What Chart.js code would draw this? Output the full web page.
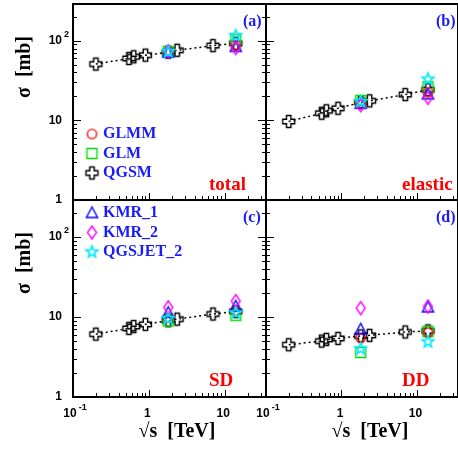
<!DOCTYPE html>
<html>
<head>
<meta charset="utf-8">
<script src="https://cdn.jsdelivr.net/npm/chart.js@4/dist/chart.umd.min.js"></script>
<style>
  html, body { margin: 0; padding: 0; background: #fff; overflow: hidden; }
  #wrap { position: relative; width: 458px; height: 449px; }
  #wrap canvas { position: absolute; left: 0; top: 0; }
</style>
</head>
<body>
<div id="wrap">
  <canvas id="panelA" width="458" height="449"></canvas>
  <canvas id="panelB" width="458" height="449"></canvas>
  <canvas id="panelC" width="458" height="449"></canvas>
  <canvas id="panelD" width="458" height="449"></canvas>
</div>
<script>
// sqrt(s) in TeV
const qgsmEnergies = [0.2, 0.546, 0.63, 0.9, 1.8, 2.36, 7, 14];
const modelEnergies = [1.8, 14];

// QGSM (dotted curve), sigma in mb
const qgsmTotal   = [51, 60, 63, 66, 72, 76, 87, 93];
const qgsmElastic = [9.7, 12.3, 13.2, 14.2, 16.8, 17.6, 21.1, 24.3];
const qgsmSD      = [6.1, 7.2, 7.6, 8.1, 9.0, 9.4, 10.9, 11.7];
const qgsmDD      = [4.5, 5.0, 5.25, 5.4, 5.8, 5.9, 6.5, 6.7];

// models at 1.8 and 14 TeV
const glmmTotal = [73, 88],    glmmElastic = [16.6, 22.5], glmmSD = [9.8, 11.9], glmmDD = [5.5, 6.4];
const glmTotal  = [73.5, 103], glmElastic  = [17.8, 26.5], glmSD  = [8.9, 10.5], glmDD  = [3.6, 6.6];
const kmr1Total = [71, 84],    kmr1Elastic = [16.2, 21.3], kmr1SD = [11.3, 13.6], kmr1DD = [7.0, 13.2];
const kmr2Total = [74, 81],    kmr2Elastic = [15.5, 19.2], kmr2SD = [13.2, 15.8], kmr2DD = [12.9, 13.5];
const qgsjTotal = [73, 116],   qgsjElastic = [17.3, 33],   qgsjSD = [9.6, 11.3],  qgsjDD = [4.0, 4.9];

// axis tick labels: [base, exponent]
const xTickValues = [0.1, 1, 10];
const xTickLabels = [["10", "-1"], ["1", ""], ["10", ""]];
const yTickValues = [1, 10, 100];
const yTickLabels = [["1", ""], ["10", ""], ["10", "2"]];

const W = 458, H = 449;
const X_MIN = 0.1, X_MAX = 35, Y_MIN = 1, Y_MAX = 290;
const SERIF = "'Liberation Serif', 'Times New Roman', serif";
const SANS = "'Liberation Sans', Arial, sans-serif";
const BLUE = "#1a1aff", RED = "#ff0000";

function makeMarker(shape, color) {
    const c = document.createElement("canvas");
    c.width = 17; c.height = 17;
    const g = c.getContext("2d");
    g.translate(8.5, 8.5);
    g.strokeStyle = color;
    g.lineWidth = shape === "star" ? 1.7 : 1.4;
    g.beginPath();
    if (shape === "circle") {
        g.arc(0, 0, 4.6, 0, Math.PI * 2);
    } else if (shape === "square") {
        g.rect(-5, -5, 10, 10);
    } else if (shape === "triangle") {
        g.moveTo(0, -6); g.lineTo(5.6, 4.5); g.lineTo(-5.6, 4.5); g.closePath();
    } else if (shape === "diamond") {
        g.moveTo(0, -6.5); g.lineTo(4.5, 0); g.lineTo(0, 6.5); g.lineTo(-4.5, 0); g.closePath();
    } else if (shape === "star") {
        for (let i = 0; i < 10; i++) {
            const r = i % 2 ? 2.6 : 6;
            const a = -Math.PI / 2 + i * Math.PI / 5;
            g.lineTo(r * Math.cos(a), r * Math.sin(a));
        }
        g.closePath();
    } else if (shape === "cross") {
        const a = 2.2, e = 6;
        const p = [[-a,-e],[a,-e],[a,-a],[e,-a],[e,a],[a,a],[a,e],[-a,e],[-a,a],[-e,a],[-e,-a],[-a,-a]];
        p.forEach(([x, y], i) => i ? g.lineTo(x, y) : g.moveTo(x, y));
        g.closePath();
    }
    g.stroke();
    return c;
}

const markers = {
    GLMM: makeMarker("circle", "#ff0000"),
    GLM: makeMarker("square", "#00e000"),
    QGSM: makeMarker("cross", "#000000"),
    KMR_1: makeMarker("triangle", "#0000ff"),
    KMR_2: makeMarker("diamond", "#ff00ff"),
    QGSJET_2: makeMarker("star", "#00e8ff")
};

const pts = (xs, ys) => xs.map((x, i) => ({ x: x, y: ys[i] }));

function buildDatasets(q, glmm, glm, kmr1, kmr2, qgsj) {
    const model = (label, ys, order) => ({
        label: label,
        data: pts(modelEnergies, ys),
        showLine: false,
        pointStyle: markers[label],
        pointRadius: 5,
        order: order
    });
    return [
        {
            label: "QGSM",
            data: pts(qgsmEnergies, q),
            showLine: true,
            borderColor: "#000",
            borderWidth: 1.5,
            borderDash: [2, 3],
            tension: 0,
            pointStyle: markers.QGSM,
            pointRadius: 5,
            order: 6
        },
        model("GLM", glm, 5),
        model("GLMM", glmm, 4),
        model("KMR_1", kmr1, 3),
        model("KMR_2", kmr2, 2),
        model("QGSJET_2", qgsj, 1)
    ];
}

function drawLabel(ctx, base, sup, x, y, align) {
    ctx.font = "bold 12px " + SANS;
    const wb = ctx.measureText(base).width;
    ctx.font = "bold 9px " + SANS;
    const ws = sup ? ctx.measureText(sup).width + 2 : 0;
    let left;
    if (align === "right") left = x - wb;
    else left = x - (wb + ws) / 2;
    ctx.textAlign = "left";
    ctx.textBaseline = "middle";
    ctx.font = "bold 12px " + SANS;
    ctx.fillText(base, left, y);
    if (sup) {
        ctx.font = "bold 9px " + SANS;
        ctx.fillText(sup, left + wb + 2, y - 6);
    }
}

function panelPlugin(cfg) {
    return {
        id: "panelDecor",
        beforeDatasetsDraw(chart) {
            const { ctx, chartArea: a, scales: { x, y } } = chart;
            ctx.save();
            ctx.strokeStyle = "#000";
            ctx.lineWidth = 1;
            ctx.beginPath();
            for (let e = -1; e <= 2; e++) {
                for (let d = 1; d <= 9; d++) {
                    const v = d * Math.pow(10, e);
                    if (v > X_MIN * 1.001 && v < X_MAX) {
                        const px = Math.round(x.getPixelForValue(v)) + 0.5;
                        const len = d === 1 ? 7 : 4;
                        ctx.moveTo(px, a.bottom);
                        ctx.lineTo(px, a.bottom - len);
                    }
                    if (v > Y_MIN * 1.001 && v < Y_MAX) {
                        const py = Math.round(y.getPixelForValue(v)) + 0.5;
                        const len = d === 1 ? 8 : 4;
                        ctx.moveTo(a.left, py);
                        ctx.lineTo(a.left + len, py);
                        if (cfg.rightTicks) {
                            ctx.moveTo(a.right, py);
                            ctx.lineTo(a.right - len, py);
                        }
                    }
                }
            }
            ctx.stroke();
            ctx.lineWidth = 2;
            ctx.strokeRect(a.left, a.top, a.right - a.left, a.bottom - a.top);
            ctx.restore();
        },
        afterDraw(chart) {
            const { ctx, chartArea: a, scales: { x, y } } = chart;
            ctx.save();
            ctx.fillStyle = "#000";
            if (cfg.yLabels) {
                yTickValues.forEach((v, i) => {
                    drawLabel(ctx, yTickLabels[i][0], yTickLabels[i][1], a.left - 11, y.getPixelForValue(v), "right");
                });
                ctx.save();
                ctx.translate(25, a.top + 63);
                ctx.rotate(-Math.PI / 2);
                ctx.font = "bold 20px " + SERIF;
                ctx.textAlign = "center";
                ctx.textBaseline = "middle";
                ctx.fillText("\u03c3  [mb]", 0, 0);
                ctx.restore();
            }
            if (cfg.xLabels) {
                xTickValues.forEach((v, i) => {
                    const lab = xTickLabels[i];
                    const px = x.getPixelForValue(v) + (lab[1] ? 2 : -1.5);
                    drawLabel(ctx, lab[0], lab[1], px, a.bottom + 17, "center");
                });
                ctx.font = "bold 20px " + SERIF;
                ctx.textAlign = "center";
                ctx.textBaseline = "middle";
                ctx.fillText("\u221as  [TeV]", a.left + 104, a.bottom + 35);
            }
            ctx.textAlign = "left";
            ctx.textBaseline = "middle";
            ctx.fillStyle = BLUE;
            ctx.font = "bold 16px " + SERIF;
            ctx.fillText(cfg.tag, a.left + 170, a.top + 18);
            ctx.fillStyle = RED;
            ctx.font = "bold 19px " + SERIF;
            ctx.fillText(cfg.process, a.left + 136, a.top + 181);
            if (cfg.legend) {
                cfg.legend.forEach((name, i) => {
                    const my = a.top + cfg.legendTop + i * 19.5;
                    const img = markers[name];
                    ctx.drawImage(img, a.left + 19 - img.width / 2, my - img.height / 2);
                    ctx.fillStyle = BLUE;
                    ctx.font = "bold 16px " + SERIF;
                    ctx.fillText(name, a.left + 30, my);
                });
            }
            ctx.restore();
        }
    };
}

function makePanel(id, rect, datasets, cfg) {
    const [l, t, r, b] = rect;
    new Chart(document.getElementById(id), {
        type: "line",
        data: { datasets: datasets },
        options: {
            responsive: false,
            animation: false,
            events: [],
            layout: {
                autoPadding: false,
                padding: { left: l, top: t, right: W - r, bottom: H - b }
            },
            scales: {
                x: { type: "logarithmic", min: X_MIN, max: X_MAX, display: false },
                y: { type: "logarithmic", min: Y_MIN, max: Y_MAX, display: false }
            },
            plugins: {
                legend: { display: false },
                tooltip: { enabled: false }
            }
        },
        plugins: [panelPlugin(cfg)]
    });
}

makePanel("panelA", [73, 4, 266, 200],
    buildDatasets(qgsmTotal, glmmTotal, glmTotal, kmr1Total, kmr2Total, qgsjTotal),
    { tag: "(a)", process: "total", yLabels: true, xLabels: false, rightTicks: true, legend: ["GLMM", "GLM", "QGSM"], legendTop: 130 });
makePanel("panelB", [266, 4, 459, 200],
    buildDatasets(qgsmElastic, glmmElastic, glmElastic, kmr1Elastic, kmr2Elastic, qgsjElastic),
    { tag: "(b)", process: "elastic", yLabels: false, xLabels: false, rightTicks: false });
makePanel("panelC", [73, 200, 266, 397],
    buildDatasets(qgsmSD, glmmSD, glmSD, kmr1SD, kmr2SD, qgsjSD),
    { tag: "(c)", process: "SD", yLabels: true, xLabels: true, rightTicks: true, legend: ["KMR_1", "KMR_2", "QGSJET_2"], legendTop: 13 });
makePanel("panelD", [266, 200, 459, 397],
    buildDatasets(qgsmDD, glmmDD, glmDD, kmr1DD, kmr2DD, qgsjDD),
    { tag: "(d)", process: "DD", yLabels: false, xLabels: true, rightTicks: false });
</script>
</body>
</html>
